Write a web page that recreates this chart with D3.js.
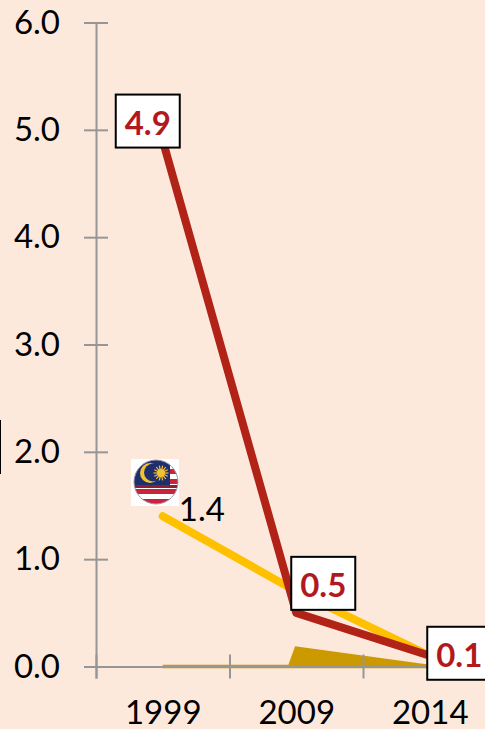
<!DOCTYPE html>
<html>
<head>
<meta charset="utf-8">
<script src="https://cdn.jsdelivr.net/npm/d3@7"></script>
<style>
  html, body { margin: 0; padding: 0; background: #FDE9DB; overflow: hidden; }
  svg { display: block; }
  text { font-family: Lato, "Open Sans", sans-serif; }
</style>
</head>
<body>
<svg id="chart"></svg>
<script>
const years = ['1999', '2009', '2014'];
const yTicks = [0, 1, 2, 3, 4, 5, 6];
const redValues = [4.9, 0.5, 0.1];
const yellowValues = [1.4, 0.7, 0.1];
// gold area has a steep step just before 2009
const goldPositions = [0.5, 1.45, 1.5, 2.5];
const goldValues = [0, 0, 0.17, 0];
const redLabels = ['4.9', '0.5', '0.1'];
const yellowLabel = '1.4';

const width = 485, height = 729;
const svg = d3.select('#chart').attr('width', width).attr('height', height)
  .attr('viewBox', [0, 0, width, height]);

// x runs in category slots, slot 0 starts on the y axis
const x = d3.scaleLinear().domain([0, 3]).range([96, 496.5]);
const y = d3.scaleLinear().domain([0, 6]).range([666.5, 22.5]);
const slot = (i) => x(i + 0.5);

/** GOLD AREA */
const area = d3.area()
  .x((d, i) => x(goldPositions[i]))
  .y0(y(0))
  .y1((d) => y(d));
svg.append('path').datum(goldValues)
  .attr('d', area)
  .attr('fill', '#CC9900')
  .attr('stroke', '#CC9900')
  .attr('stroke-width', 3.5);

/** AXES */
const yAxis = svg.append('g')
  .attr('transform', `translate(${x(0)},0)`)
  .call(d3.axisLeft(y).tickValues(yTicks).tickSize(12).tickPadding(24).tickFormat(d3.format('.1f')));
yAxis.selectAll('.tick line').attr('x2', -12).clone().attr('x2', 12);

const xMarks = svg.append('g')
  .attr('transform', `translate(0,${y(0)})`)
  .call(d3.axisBottom(x).tickValues([0, 1, 2, 3]).tickSize(12).tickFormat(''));
xMarks.selectAll('.tick line').clone().attr('y2', -12);

const xLabels = svg.append('g')
  .attr('transform', `translate(0,${y(0)})`)
  .call(d3.axisBottom(x).tickValues([0.5, 1.5, 2.5]).tickSize(0).tickPadding(34)
    .tickFormat((d) => years[Math.floor(d)]));
xLabels.select('.domain').remove();

svg.selectAll('.domain').attr('stroke', '#969696').attr('stroke-width', 2);
svg.selectAll('.tick line').attr('stroke', '#969696').attr('stroke-width', 2);
svg.selectAll('.tick text').attr('fill', '#000').style('font-size', '33px');

/** LINES */
const line = d3.line().x((d, i) => slot(i)).y((d) => y(d));
svg.append('path').datum(yellowValues)
  .attr('d', line)
  .attr('fill', 'none')
  .attr('stroke', '#FFC000')
  .attr('stroke-width', 8)
  .attr('stroke-linecap', 'round')
  .attr('stroke-linejoin', 'round');
svg.append('path').datum(redValues)
  .attr('d', line)
  .attr('fill', 'none')
  .attr('stroke', '#B22317')
  .attr('stroke-width', 8)
  .attr('stroke-linecap', 'round')
  .attr('stroke-linejoin', 'round');

/** VALUE LABELS */
const boxW = 64, boxH = 53;
const labels = svg.append('g').selectAll('g')
  .data(redLabels)
  .join('g')
  .attr('transform', (d, i) => `translate(${slot(i) - [47, 5, 2.5][i]},${y(redValues[i]) - [46, 56, 29][i]})`);
labels.append('rect')
  .attr('width', boxW).attr('height', boxH)
  .attr('fill', '#fff').attr('stroke', '#000').attr('stroke-width', 2);
labels.append('text')
  .attr('x', boxW / 2).attr('y', 40)
  .attr('text-anchor', 'middle')
  .attr('fill', '#B2191E')
  .style('font-size', '33px').style('font-weight', 700)
  .text((d) => d);

// plain label of the yellow series
svg.append('text')
  .attr('x', slot(0) + 16).attr('y', y(yellowValues[0]) + 5)
  .attr('fill', '#000').style('font-size', '33px')
  .text(yellowLabel);

// edge of a box cut off by the left side of the picture
svg.append('line').attr('x1', 0).attr('x2', 0).attr('y1', 420).attr('y2', 474)
  .attr('stroke', '#000').attr('stroke-width', 2);

/** FLAG */
const flag = svg.append('g').attr('transform', 'translate(131,459)');
flag.append('rect').attr('width', 48).attr('height', 47).attr('fill', '#fff');
const clip = svg.append('clipPath').attr('id', 'flag-clip');
clip.append('circle').attr('cx', 25).attr('cy', 23).attr('r', 22);
const inner = flag.append('g').attr('clip-path', 'url(#flag-clip)');
const stripeColors = ['#C8253C', '#FFFFFF'];
d3.range(10).forEach((i) => {
  inner.append('rect').attr('x', 0).attr('y', i * 5).attr('width', 48).attr('height', 5)
    .attr('fill', stripeColors[i % 2]);
});
inner.append('rect').attr('x', 0).attr('y', 0).attr('width', 39).attr('height', 26).attr('fill', '#1F2F6E');
inner.append('rect').attr('x', 0).attr('y', 26).attr('width', 48).attr('height', 3).attr('fill', '#8E1F33');
flag.append('circle').attr('cx', 19).attr('cy', 14).attr('r', 10).attr('fill', '#F2C230');
flag.append('circle').attr('cx', 22).attr('cy', 13.5).attr('r', 9).attr('fill', '#1F2F6E');
d3.range(14).forEach((i) => {
  const a = i * Math.PI / 7;
  flag.append('line')
    .attr('x1', 30).attr('y1', 14)
    .attr('x2', 30 + 7.5 * Math.cos(a)).attr('y2', 14 + 7.5 * Math.sin(a))
    .attr('stroke', '#F2C230').attr('stroke-width', 1.2);
});
flag.append('circle').attr('cx', 30).attr('cy', 14).attr('r', 4).attr('fill', '#F2C230');
flag.append('circle').attr('cx', 25).attr('cy', 23).attr('r', 22)
  .attr('fill', 'none').attr('stroke', '#9a9aa5').attr('stroke-width', 1);
</script>
</body>
</html>
